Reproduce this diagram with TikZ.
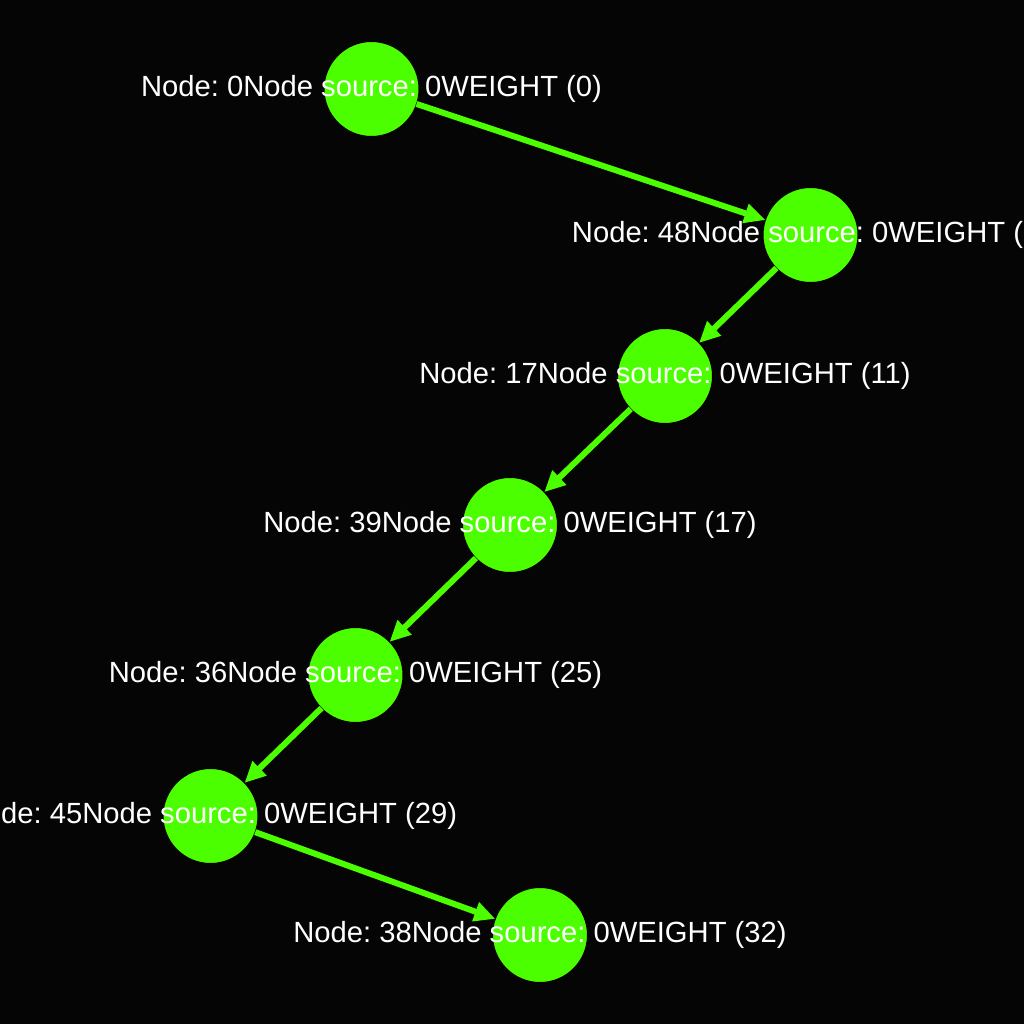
\documentclass[tikz,border=0pt]{standalone}
\usepackage{fontspec}
\setmainfont{Liberation Sans}
\usetikzlibrary{arrows.meta}
\definecolor{bg}{RGB}{5,5,5}
\definecolor{ngreen}{RGB}{76,255,0}
\begin{document}
\frenchspacing
\begin{tikzpicture}[x=1pt,y=-1pt,
  gnode/.style={circle,fill=ngreen,draw=black,line width=1pt,minimum size=95pt,inner sep=0pt,outer sep=0pt},
  glabel/.style={text=white,anchor=base,inner sep=0pt,font=\fontsize{29.2}{29.2}\selectfont},
  gedge/.style={draw=ngreen,line width=6pt,-{Triangle[length=21pt,width=19pt]}}]
\fill[bg] (0,0) rectangle (1024,1024);
\useasboundingbox (0,0) rectangle (1024,1024);
\node[gnode] (n0) at (371.5,89) {};
\node[gnode] (n48) at (810.5,235) {};
\node[gnode] (n17) at (665,376) {};
\node[gnode] (n39) at (510,525) {};
\node[gnode] (n36) at (355.5,675) {};
\node[gnode] (n45) at (210.5,816) {};
\node[gnode] (n38) at (540,935) {};
\draw[gedge] (n0) -- (n48);
\draw[gedge] (n48) -- (n17);
\draw[gedge] (n17) -- (n39);
\draw[gedge] (n39) -- (n36);
\draw[gedge] (n36) -- (n45);
\draw[gedge] (n45) -- (n38);
\node[glabel] (l0) at ([yshift=-7.5pt]n0.center) {Node: 0Node source: 0WEIGHT (0)};
\node[glabel] (l48) at ([yshift=-7.5pt]n48.center) {Node: 48Node source: 0WEIGHT (6)};
\node[glabel] (l17) at ([yshift=-7.5pt]n17.center) {Node: 17Node source: 0WEIGHT (11)};
\node[glabel] (l39) at ([yshift=-7.5pt]n39.center) {Node: 39Node source: 0WEIGHT (17)};
\node[glabel] (l36) at ([yshift=-7.5pt]n36.center) {Node: 36Node source: 0WEIGHT (25)};
\node[glabel] (l45) at ([yshift=-7.5pt]n45.center) {Node: 45Node source: 0WEIGHT (29)};
\node[glabel] (l38) at ([yshift=-7.5pt]n38.center) {Node: 38Node source: 0WEIGHT (32)};
\end{tikzpicture}
\end{document}
